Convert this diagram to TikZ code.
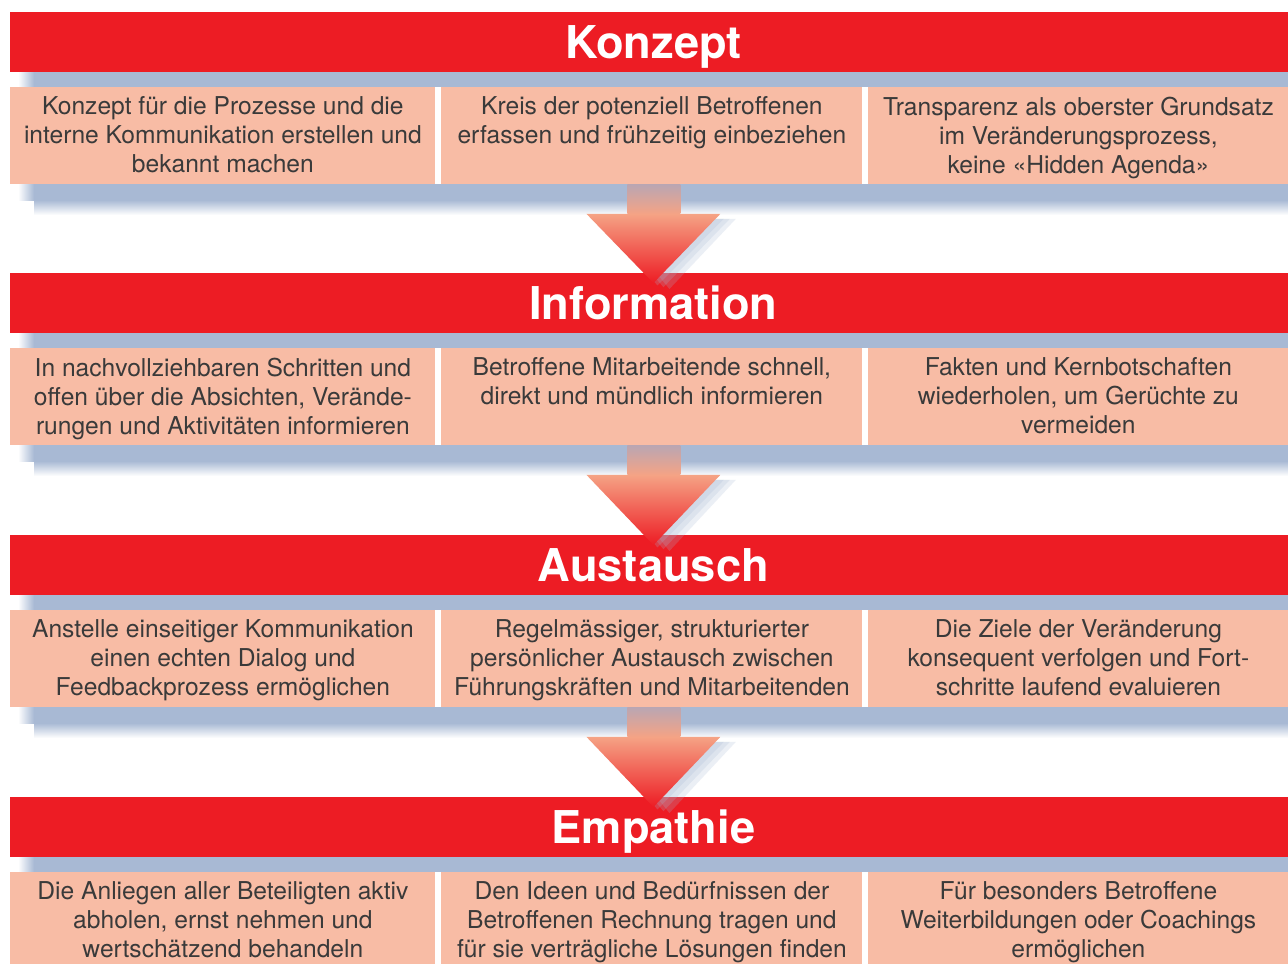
\documentclass[tikz,border=0pt]{standalone}
\usepackage{fontspec}
\setmainfont{TeX Gyre Heros}
\usetikzlibrary{positioning,shadings}

\definecolor{barred}{HTML}{ED1C24}
\definecolor{boxsalmon}{HTML}{F8BCA5}
\definecolor{shadowblue}{HTML}{A8B9D4}
\definecolor{textgray}{HTML}{3A3A3A}
\definecolor{arrowtop}{HTML}{F5A385}
\definecolor{stemtop}{HTML}{BBA6B2}

\begin{document}
\begin{tikzpicture}[x=0.5pt,y=-0.5pt]
            \tikzstyle{bar} = [anchor=north west,fill=barred,minimum width=639pt,minimum height=30pt,inner sep=0pt,text=white,font=\bfseries\fontsize{22.6}{26}\selectfont,text height=16pt,text depth=0pt,execute at begin node=\hspace*{4pt}];
            \tikzstyle{box} = [anchor=north west,fill=boxsalmon,minimum height=48.5pt,inner sep=0pt];
            \tikzstyle{txt} = [inner sep=0pt,align=center,text=textgray,font=\fontsize{12.3}{14.5}\selectfont];
            \useasboundingbox[fill=white] (0,0) rectangle (1288,963);
            % blue shadows behind each row
            \foreach \t in {12,273,535,797} {
                \shade[left color=white,right color=shadowblue] (18,\t+60) rectangle (34,\t+75);
                \shade[left color=white,right color=shadowblue] (18,\t+172) rectangle (34,\t+188);
                \fill[shadowblue] (34,\t+60) rectangle (1288,\t+75);
                \fill[shadowblue] (34,\t+172) rectangle (1288,\t+188);
                \shade[top color=shadowblue,bottom color=white] (34,\t+188) rectangle (1288,\t+203);
            }
            % title bars
            \node[bar] (konzept) at (10,12) {Konzept};
            \node[bar] (info) at (10,273) {Information};
            \node[bar] (austausch) at (10,535) {Austausch};
            \node[bar] (empathie) at (10,797) {Empathie};
            % boxes
            \foreach \r/\t in {k/87,i/348,a/610,e/872} {
                \node[box,minimum width=212.5pt] (\r1) at (10,\t) {};
                \node[box,minimum width=210.5pt] (\r2) at (441,\t) {};
                \node[box,minimum width=210pt] (\r3) at (868,\t) {};
            }
            % arrows between the rows
            \foreach \from/\to in {k2/info,i2/austausch,a2/empathie} {
                \foreach \s in {4,7,10} {
                    \fill[shadowblue,opacity=0.22] ([xshift=-30pt+\s pt,yshift=-17pt]\from.south) -- ([xshift=32pt+\s pt,yshift=-17pt]\from.south) -- ([xshift=\s pt,yshift=-5pt-0.3*\s pt]\to.north) -- cycle;
                }
                \shade[top color=stemtop,bottom color=arrowtop] ([xshift=-12.25pt]\from.south) rectangle ([xshift=14.25pt,yshift=-14.5pt]\from.south);
                \shade[top color=arrowtop,bottom color=barred] ([xshift=-32.75pt,yshift=-14.5pt]\from.south) -- ([xshift=34.25pt,yshift=-14.5pt]\from.south) -- ([xshift=2pt,yshift=-5pt]\to.north) -- cycle;
            }
            % texts
            \node[txt,below=4.7pt of k1.north] (tk1) {Konzept für die Prozesse und die\\interne Kommunikation erstellen und\\bekannt machen};
            \node[txt,below=4.7pt of k2.north] (tk2) {Kreis der potenziell Betroffenen\\erfassen und frühzeitig einbeziehen};
            \node[txt,below=4.7pt of k3.north] (tk3) {Transparenz als oberster Grundsatz\\im Veränderungsprozess,\\keine «Hidden Agenda»};
            \node[txt,below=4.7pt of i1.north] (ti1) {In nachvollziehbaren Schritten und\\offen über die Absichten, Verände-\\rungen und Aktivitäten informieren};
            \node[txt,below=4.7pt of i2.north] (ti2) {Betroffene Mitarbeitende schnell,\\direkt und mündlich informieren};
            \node[txt,below=4.7pt of i3.north] (ti3) {Fakten und Kernbotschaften\\wiederholen, um Gerüchte zu\\vermeiden};
            \node[txt,below=4.7pt of a1.north] (ta1) {Anstelle einseitiger Kommunikation\\einen echten Dialog und\\Feedbackprozess ermöglichen};
            \node[txt,below=4.7pt of a2.north] (ta2) {Regelmässiger, strukturierter\\persönlicher Austausch zwischen\\Führungskräften und Mitarbeitenden};
            \node[txt,below=4.7pt of a3.north] (ta3) {Die Ziele der Veränderung\\konsequent verfolgen und Fort-\\schritte laufend evaluieren};
            \node[txt,below=4.7pt of e1.north] (te1) {Die Anliegen aller Beteiligten aktiv\\abholen, ernst nehmen und\\wertschätzend behandeln};
            \node[txt,below=4.7pt of e2.north] (te2) {Den Ideen und Bedürfnissen der\\Betroffenen Rechnung tragen und\\für sie verträgliche Lösungen finden};
            \node[txt,below=4.7pt of e3.north] (te3) {Für besonders Betroffene\\Weiterbildungen oder Coachings\\ermöglichen};
        \end{tikzpicture}
\end{document}
